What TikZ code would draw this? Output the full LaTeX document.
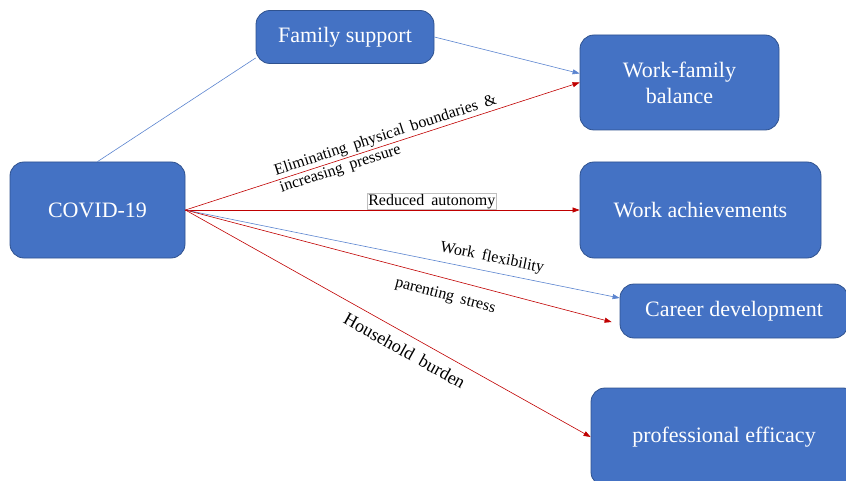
\documentclass[tikz,border=0pt]{standalone}
\usepackage{fontspec}
\setmainfont{Liberation Serif}
\usetikzlibrary{arrows.meta,positioning,calc}
\definecolor{boxblue}{HTML}{4472C4}
\definecolor{boxedge}{HTML}{2F528F}
\definecolor{linkred}{HTML}{C00000}
\definecolor{linkblue}{HTML}{5B84CF}
\newcommand{\labelfont}{\fontsize{16}{18}\selectfont\spaceskip=7pt\relax}
\newcommand{\bigfont}{\fontsize{18}{20}\selectfont\spaceskip=8pt\relax}

\begin{document}
\begin{tikzpicture}[
  x=1pt,y=1pt,
  box options/.style = {draw=boxedge,fill=boxblue,text=white,rounded corners=14pt,
    line width=0.8pt,inner sep=0pt,align=center,font=\fontsize{22}{26}\selectfont},
  red link options/.style = {draw=linkred,line width=0.6pt,-{Triangle[length=7pt,width=5pt]}},
  blue link options/.style = {draw=linkblue,line width=0.6pt,-{Triangle[length=7pt,width=5pt]}},
  label options/.style = {font=\labelfont,sloped,inner sep=2pt},
  ]
  \useasboundingbox (0,0) rectangle (846,480);
  % boxes
  \node[box options,minimum width=175pt,minimum height=96pt] (covid) at (97.5,270) {COVID-19};
  \node[box options,minimum width=178pt,minimum height=53pt] (famsup) at (345,443) {Family support};
  \node[box options,minimum width=199pt,minimum height=95pt] (wfb) at (679.5,397.5) {Work-family\\balance};
  \node[box options,minimum width=241pt,minimum height=96pt] (achieve) at (700.5,270) {Work achievements};
  \node[box options,minimum width=228pt,minimum height=54pt] (career) at (734,169) {Career development};
  \node[box options,minimum width=266pt,minimum height=98pt] (efficacy) at (724,43) {professional efficacy};
  % links
  \draw[blue link options,-] (covid.north) -- ([yshift=-21pt]famsup.west);
  \draw[blue link options] (famsup.east) -- ([yshift=9pt]wfb.west);
  \draw[red link options] (covid.east) -- node[label options,pos=0.515,align=left]
    {Eliminating physical boundaries \&\\increasing pressure} (wfb.west);
  \draw[red link options] (covid.east) -- node[pos=0.625,above,draw=gray!50,fill=white,
    inner sep=1pt,font=\labelfont] {Reduced autonomy} (achieve.west);
  \draw[blue link options] (covid.east) -- node[label options,pos=0.7,above=4pt]
    {Work flexibility} ([yshift=13pt]career.west);
  \draw[red link options] (covid.east) -- node[label options,pos=0.62,below=8pt]
    {parenting stress} ([xshift=-8pt,yshift=-11pt]career.west);
  \draw[red link options] (covid.east) -- node[label options,pos=0.56,below=7pt,
    font=\bigfont] {Household burden} (efficacy.west);
\end{tikzpicture}
\end{document}
